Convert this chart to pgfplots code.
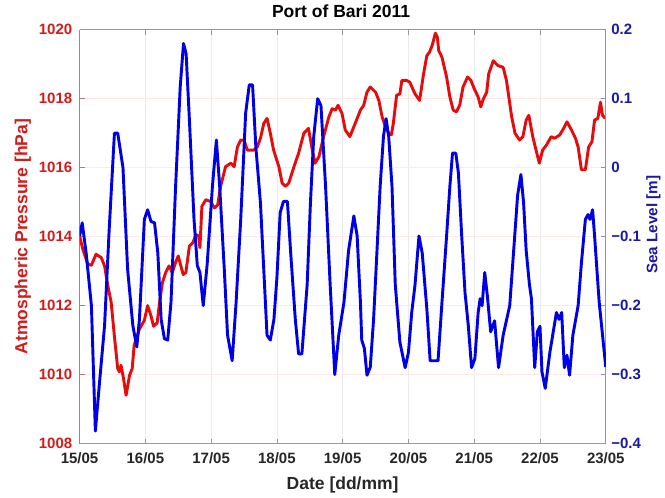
\documentclass[border=0pt]{standalone}
\usepackage{fontspec}
\setmainfont{Liberation Sans}
\usepackage{pgfplots}
\pgfplotsset{compat=1.18}
\definecolor{pline}{RGB}{228,12,12}
\definecolor{sline}{RGB}{0,0,228}
\definecolor{plab}{RGB}{210,28,28}
\definecolor{slab}{RGB}{25,25,165}
\definecolor{paxis}{RGB}{190,120,120}
\definecolor{saxis}{RGB}{140,140,215}
\newcommand{\tfont}{\bfseries\fontsize{11.3}{13}\selectfont}
\newcommand{\lfont}{\bfseries\fontsize{13.2}{15}\selectfont}
\begin{document}
\begin{tikzpicture}
\begin{axis}[
  name=ax, at={(0,0)}, anchor=south west,
  scale only axis, width=396.75pt, height=312pt,
  xmin=0, xmax=8, ymin=1008, ymax=1020,
  axis x line*=box, axis y line*=left,
  x axis line style={draw=gray!80, line width=0.5pt, -},
  y axis line style={draw=paxis, line width=0.5pt, -},
  xtick={0,1,2,3,4,5,6,7,8},
  xticklabels={15/05,16/05,17/05,18/05,19/05,20/05,21/05,22/05,23/05},
  ytick={1008,1010,1012,1014,1016,1018,1020},
  yticklabels={1008,1010,1012,1014,1016,1018,1020},
  tick align=inside, major tick length=3.75pt,
  xtick style={draw=gray!80, line width=0.5pt},
  ytick style={draw=paxis, line width=0.5pt},
  xticklabel style={font=\tfont, text=black!85, yshift=-3.5pt},
  yticklabel style={font=\tfont, text=plab, xshift=-2pt},
  grid=major,
  x grid style={gray!16, line width=0.5pt},
  y grid style={red!9, line width=0.5pt},
  title={Port of Bari 2011},
  title style={font=\lfont, text=black, at={(rel axis cs:0.497,1.0264)}, anchor=center},
  xlabel={Date [dd/mm]},
  xlabel style={font=\lfont, text=black!85, at={(rel axis cs:0.5,-0.1)}, anchor=center},
  ylabel={Atmospheric Pressure [hPa]},
  ylabel style={font=\lfont, text=plab, at={(rel axis cs:-0.108,0.5)}, anchor=center, rotate=0},
]
\addplot[pline, line width=2.2pt, line join=round] coordinates {
(0,1014.02) (0.05,1013.63) (0.126,1013.2) (0.18,1013.17) (0.25,1013.49) (0.33,1013.39)
(0.38,1013.15) (0.43,1012.57) (0.48,1012.1) (0.53,1011.1) (0.58,1010.17) (0.606,1010.08)
(0.63,1010.27) (0.667,1009.9) (0.707,1009.4) (0.76,1009.98) (0.80,1010.17) (0.83,1010.85)
(0.91,1011.32) (0.985,1011.57) (1.035,1012.0) (1.086,1011.7) (1.126,1011.4) (1.18,1011.5)
(1.21,1012.0) (1.26,1012.67) (1.31,1012.96) (1.36,1013.15) (1.41,1012.96) (1.46,1013.25)
(1.5,1013.44) (1.54,1013.15) (1.576,1012.9) (1.616,1012.96) (1.67,1013.73) (1.72,1013.82)
(1.77,1014.06) (1.81,1014.02) (1.83,1013.68) (1.86,1014.88) (1.92,1015.07) (1.99,1015.02)
(2.05,1014.83) (2.1,1014.92) (2.145,1015.46) (2.22,1016.03) (2.3,1016.13) (2.35,1016.03)
(2.4,1016.6) (2.45,1016.8) (2.5,1016.8) (2.55,1016.51) (2.65,1016.51) (2.7,1016.6)
(2.75,1016.85) (2.8,1017.28) (2.85,1017.43) (2.9,1017.0) (2.95,1016.51) (3.03,1016.03)
(3.08,1015.55) (3.13,1015.46) (3.18,1015.55) (3.26,1016.03) (3.33,1016.42) (3.41,1017.0)
(3.48,1017.14) (3.53,1016.6) (3.58,1016.13) (3.64,1016.32) (3.71,1016.9) (3.79,1017.47)
(3.84,1017.71) (3.89,1017.67) (3.93,1017.81) (3.99,1017.57) (4.04,1017.09) (4.11,1016.9)
(4.19,1017.28) (4.27,1017.67) (4.32,1017.81) (4.37,1018.19) (4.42,1018.34) (4.5,1018.19)
(4.55,1017.95) (4.6,1017.47) (4.65,1017.19) (4.7,1017.0) (4.74,1016.95) (4.77,1017.28)
(4.82,1018.1) (4.87,1018.14) (4.9,1018.53) (4.97,1018.53) (5.02,1018.48) (5.1,1018.14)
(5.17,1017.95) (5.23,1018.72) (5.28,1019.25) (5.32,1019.35) (5.36,1019.54) (5.41,1019.9)
(5.44,1019.78) (5.46,1019.4) (5.51,1019.2) (5.58,1018.63) (5.63,1018.05) (5.68,1017.67)
(5.73,1017.62) (5.78,1017.81) (5.83,1018.34) (5.9,1018.63) (5.95,1018.53) (6.0,1018.29)
(6.06,1018.05) (6.1,1017.76) (6.14,1018.0) (6.19,1018.19) (6.22,1018.72) (6.29,1019.1)
(6.36,1018.96) (6.44,1018.91) (6.49,1018.53) (6.57,1017.47) (6.62,1017.0) (6.69,1016.8)
(6.74,1016.9) (6.79,1017.38) (6.83,1017.52) (6.89,1016.9) (6.94,1016.51) (6.99,1016.13)
(7.04,1016.51) (7.1,1016.66) (7.17,1016.9) (7.22,1016.85) (7.3,1016.95) (7.36,1017.14)
(7.41,1017.33) (7.48,1017.09) (7.54,1016.85) (7.58,1016.6) (7.63,1015.94) (7.69,1015.94)
(7.74,1016.6) (7.79,1016.75) (7.83,1017.38) (7.88,1017.43) (7.92,1017.9) (7.95,1017.52)
(7.99,1017.43)
};
\end{axis}
\begin{axis}[
  at={(0,0)}, anchor=south west,
  scale only axis, width=396.75pt, height=312pt,
  xmin=0, xmax=8, ymin=-0.4, ymax=0.2,
  axis x line=none, axis y line*=right,
  y axis line style={draw=saxis, line width=0.5pt, -},
  ytick={-0.4,-0.3,-0.2,-0.1,0,0.1,0.2},
  yticklabels={−0.4,−0.3,−0.2,−0.1,0,0.1,0.2},
  tick align=inside, major tick length=3.75pt,
  ytick style={draw=saxis, line width=0.5pt},
  yticklabel style={font=\tfont, text=slab, xshift=0.7pt},
  ylabel={Sea Level [m]},
  ylabel style={font=\bfseries\fontsize{11.5}{13}\selectfont, text=slab, at={(rel axis cs:1.0907,0.529)}, anchor=center, rotate=0},
]
\addplot[sline, line width=2.2pt, line join=round] coordinates {
(0,-0.099) (0.04,-0.08) (0.1,-0.124) (0.18,-0.2) (0.24,-0.382) (0.30,-0.315) (0.38,-0.229)
(0.45,-0.09) (0.53,0.05) (0.58,0.05) (0.66,0.0) (0.73,-0.147) (0.81,-0.229) (0.87,-0.26)
(0.91,-0.22) (0.985,-0.075) (1.035,-0.061) (1.086,-0.078) (1.14,-0.08) (1.19,-0.124)
(1.24,-0.22) (1.29,-0.248) (1.34,-0.25) (1.39,-0.195) (1.46,-0.027) (1.53,0.117) (1.58,0.18)
(1.62,0.165) (1.67,0.069) (1.74,-0.075) (1.79,-0.142) (1.83,-0.152) (1.88,-0.2) (1.94,-0.14)
(2.02,-0.027) (2.08,0.04) (2.13,-0.027) (2.2,-0.147) (2.25,-0.243) (2.32,-0.28) (2.38,-0.195)
(2.45,-0.075) (2.525,0.079) (2.58,0.12) (2.63,0.12) (2.68,0.03) (2.75,-0.051) (2.8,-0.147)
(2.85,-0.243) (2.9,-0.25) (2.955,-0.22) (3.0,-0.16) (3.05,-0.065) (3.1,-0.049) (3.16,-0.049)
(3.21,-0.124) (3.28,-0.22) (3.33,-0.27) (3.38,-0.27) (3.46,-0.17) (3.51,-0.051) (3.56,0.045)
(3.62,0.1) (3.67,0.09) (3.74,-0.027) (3.81,-0.17) (3.88,-0.3) (3.94,-0.243) (4.02,-0.195)
(4.09,-0.12) (4.17,-0.07) (4.22,-0.099) (4.27,-0.195) (4.29,-0.25) (4.33,-0.262) (4.37,-0.301)
(4.42,-0.289) (4.47,-0.22) (4.52,-0.124) (4.57,-0.027) (4.62,0.045) (4.66,0.071) (4.7,0.045)
(4.75,-0.027) (4.8,-0.17) (4.87,-0.253) (4.95,-0.29) (5.0,-0.268) (5.05,-0.21) (5.1,-0.17)
(5.16,-0.099) (5.21,-0.124) (5.28,-0.205) (5.33,-0.28) (5.45,-0.28) (5.51,-0.195) (5.58,-0.099)
(5.63,-0.027) (5.67,0.021) (5.72,0.021) (5.76,-0.008) (5.81,-0.099) (5.86,-0.181) (5.91,-0.229)
(5.96,-0.29) (6.01,-0.277) (6.06,-0.21) (6.09,-0.19) (6.12,-0.2) (6.16,-0.152) (6.2,-0.186)
(6.25,-0.238) (6.31,-0.222) (6.37,-0.29) (6.44,-0.243) (6.54,-0.2) (6.6,-0.12) (6.66,-0.04)
(6.71,-0.01) (6.75,-0.05) (6.79,-0.12) (6.84,-0.17) (6.87,-0.19) (6.92,-0.29) (6.96,-0.238)
(7.0,-0.23) (7.03,-0.296) (7.08,-0.32) (7.15,-0.268) (7.25,-0.21) (7.29,-0.22) (7.33,-0.21)
(7.37,-0.29) (7.41,-0.272) (7.45,-0.301) (7.5,-0.243) (7.58,-0.2) (7.63,-0.138) (7.69,-0.075)
(7.73,-0.068) (7.76,-0.075) (7.8,-0.061) (7.83,-0.099) (7.9,-0.195) (8.0,-0.289)
};
\end{axis}
\useasboundingbox (-60pt,-36.75pt) rectangle (438.75pt,333.75pt);
\end{tikzpicture}
\end{document}
